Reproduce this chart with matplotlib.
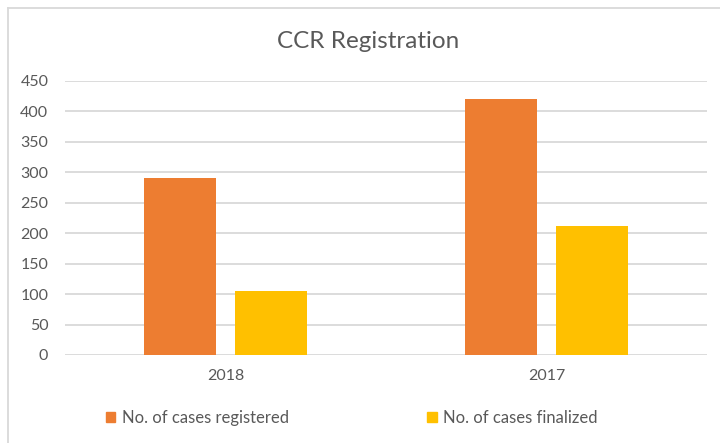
import numpy as np
import matplotlib.pyplot as plt
from matplotlib.lines import Line2D

plt.rcParams["font.family"] = ["Lato", "DejaVu Sans"]

# data
years = ["2018", "2017"]
registered = [290, 420]
finalized = [105, 212]
series_names = ["No. of cases registered", "No. of cases finalized"]
yticks = [0, 50, 100, 150, 200, 250, 300, 350, 400, 450]

c_reg = "#ED7D31"
c_fin = "#FFC000"
grey = "#595959"

fig = plt.figure(figsize=(7.2, 4.43), dpi=100)
ax = fig.add_axes([65 / 720, 1 - 355 / 443, 642 / 720, 274 / 443])

x = np.arange(len(years))
w = 0.225
off = 0.142
ax.bar(x - off, registered, width=w, color=c_reg, label=series_names[0], zorder=3)
ax.bar(x + off, finalized, width=w, color=c_fin, label=series_names[1], zorder=3)

ax.set_xlim(-0.5, len(years) - 0.5)
ax.set_ylim(0, 450)
ax.set_yticks(yticks)
ax.set_xticks(x)
ax.set_xticklabels(years)
ax.yaxis.grid(True, color="#D9D9D9", linewidth=1.3, zorder=0)
ax.set_axisbelow(True)
for s in ax.spines.values():
    s.set_visible(False)
ax.tick_params(axis="both", length=0, labelsize=11.5, labelcolor=grey)
ax.tick_params(axis="y", pad=12)
ax.tick_params(axis="x", pad=10)

fig.text(368 / 720, 1 - 42 / 443, "CCR Registration", ha="center", va="center",
         fontsize=17.5, color=grey)

# legend
fig.legend(handles=[plt.Rectangle((0, 0), 1, 1, color=c_reg),
                    plt.Rectangle((0, 0), 1, 1, color=c_fin)],
           labels=series_names, loc="center", bbox_to_anchor=(352 / 720, 1 - 418 / 443),
           ncol=2, frameon=False, fontsize=12, labelcolor=grey,
           handlelength=0.55, handleheight=0.55, handletextpad=0.4, columnspacing=8.3)

# outer chart border
fig.add_artist(Line2D([7.5 / 720, 1], [1 - 7.5 / 443, 1 - 7.5 / 443],
                      color="#D9D9D9", linewidth=1.3))
fig.add_artist(Line2D([7.5 / 720, 7.5 / 720], [0, 1 - 7.5 / 443],
                      color="#D9D9D9", linewidth=1.3))

fig.savefig("out.png", dpi=100)
